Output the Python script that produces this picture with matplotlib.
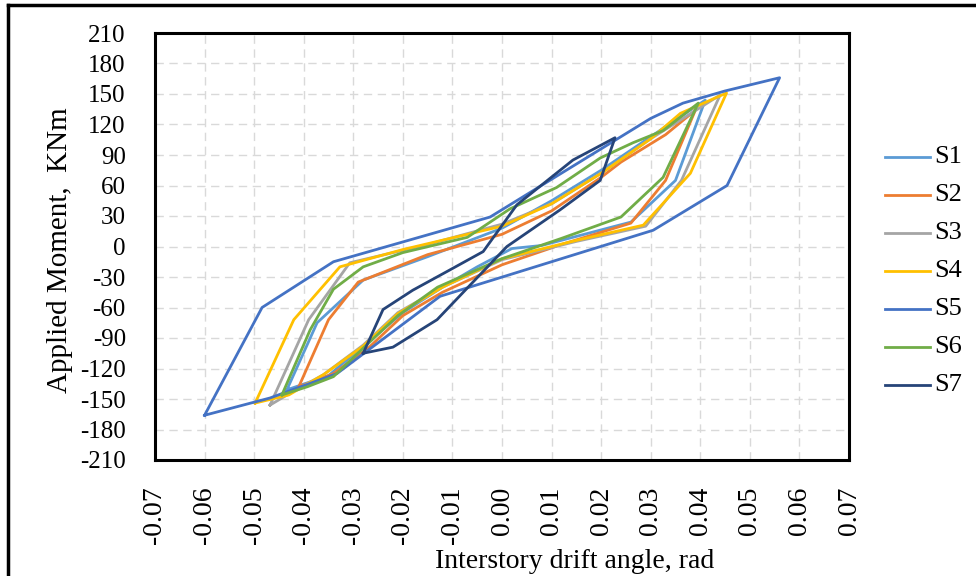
import matplotlib
matplotlib.use("Agg")
import matplotlib.pyplot as plt
from matplotlib.lines import Line2D
import numpy as np

# hysteresis loops: drift angle (rad) and applied moment (kNm)
s1_x = [-0.0434, -0.0373, -0.028, -0.015, 0.0, 0.010, 0.020, 0.030, 0.041,
        0.035, 0.026, 0.008, 0.002, -0.005, -0.012, -0.020, -0.028, -0.035, -0.0434]
s1_y = [-141, -75, -33, -10, 18, 45, 75, 108, 144,
        65, 24, 1, -2, -20, -40, -65, -98, -127, -141]

s2_x = [-0.041, -0.035, -0.029, -0.015, 0.0, 0.010, 0.020, 0.024, 0.033, 0.039,
        0.033, 0.026, 0.012, 0.0, -0.012, -0.020, -0.027, -0.034, -0.041]
s2_y = [-138, -72, -35, -8, 12, 35, 68, 83, 110, 134,
        65, 23, 2, -18, -45, -68, -100, -125, -138]

s3_x = [-0.0468, -0.039, -0.0307, -0.015, 0.0, 0.010, 0.020, 0.030, 0.044,
        0.0362, 0.029, 0.015, 0.0, -0.012, -0.021, -0.028, -0.036, -0.043, -0.0468]
s3_y = [-156, -72, -16, 2, 22, 42, 72, 106, 149,
        65, 20, 5, -13, -40, -65, -97, -126, -145, -156]

s4_x = [-0.0498, -0.042, -0.0327, -0.020, 0.0, 0.010, 0.020, 0.030, 0.036, 0.0453,
        0.038, 0.0285, 0.015, 0.0, -0.012, -0.021, -0.028, -0.036, -0.043, -0.0498]
s4_y = [-154, -72, -20, -3, 20, 42, 72, 106, 131, 151,
        72, 21, 6, -12, -40, -66, -98, -126, -146, -154]

s5_x = [-0.060, -0.0484, -0.034, -0.0024, 0.030, 0.0365, 0.045, 0.056,
        0.0454, 0.0305, -0.0125, -0.0333, -0.0468, -0.060]
s5_y = [-166, -60, -15, 29, 126, 141, 153, 166,
        60, 16, -49, -125, -149, -166]

s6_x = [-0.0444, -0.0387, -0.034, -0.028, -0.020, -0.007, 0.0016, 0.011, 0.0198, 0.0264, 0.0325, 0.0396,
        0.0325, 0.024, 0.012, 0.0, -0.013, -0.021, -0.028, -0.034, -0.0393, -0.0444]
s6_y = [-146, -82, -42, -20, -6, 9, 37, 58, 87, 102, 114, 141,
        68, 29, 8, -12, -40, -68, -100, -128, -138, -146]

s7_x = [-0.028, -0.024, -0.018, -0.0105, -0.0038, 0.003, 0.0143, 0.0228,
        0.0198, 0.0117, 0.001, -0.0131, -0.022, -0.028]
s7_y = [-105, -62, -43, -23, -5, 41, 85, 107,
        65, 36, 0, -72, -99, -105]

labels = ["S1", "S2", "S3", "S4", "S5", "S6", "S7"]
colors = ["#5B9BD5", "#ED7D31", "#A5A5A5", "#FFC000", "#4472C4", "#70AD47", "#264478"]
series = [(s1_x, s1_y), (s2_x, s2_y), (s3_x, s3_y), (s4_x, s4_y),
          (s5_x, s5_y), (s6_x, s6_y), (s7_x, s7_y)]

x_ticks = np.round(np.arange(-0.07, 0.0701, 0.01), 2)
y_ticks = np.arange(-210, 211, 30)

plt.rcParams["font.family"] = ["Liberation Serif", "DejaVu Serif"]
plt.rcParams["axes.unicode_minus"] = False

W, H = 976, 576
fig = plt.figure(figsize=(W / 100, H / 100), dpi=100)
ax = fig.add_axes([155 / W, 1 - 460 / H, 694 / W, 427 / H])

for (x, y), lab, c in zip(series, labels, colors):
    ax.plot(x, y, color=c, lw=2, label=lab)

ax.set_xlim(-0.07, 0.07)
ax.set_ylim(-210, 210)
ax.set_xticks(x_ticks)
ax.set_xticklabels([f"{v:.2f}" if v != 0 else "0.00" for v in x_ticks], rotation=90, fontsize=20)
ax.set_yticks(y_ticks)
ax.tick_params(axis="y", labelsize=18, length=0, pad=21)
ax.tick_params(axis="x", length=0, pad=19)
ax.grid(True, color="#d9d9d9", ls=(0, (6, 4)), lw=1)
for sp in ax.spines.values():
    sp.set_linewidth(2.2)
    sp.set_color("black")

fig.text(575 / W, 1 - 562 / H, "Interstory drift angle, rad", ha="center", va="center", fontsize=20)
fig.text(60 / W, 1 - 250 / H, "Applied Moment,  KNm", ha="center", va="center",
         rotation=90, fontsize=21)

# legend drawn by hand: short line plus series name
for i, (lab, c) in enumerate(zip(labels, colors)):
    yy = 1 - (157 + 38 * i) / H
    fig.add_artist(Line2D([885 / W, 930 / W], [yy, yy], color=c, lw=2))
    fig.text(934 / W, yy, lab, ha="left", va="center", fontsize=19)

# outer frame edges
fig.add_artist(Line2D([8 / W, 8 / W], [0, 1 - 5 / H], color="black", lw=2.5))
fig.add_artist(Line2D([8 / W, 1], [1 - 5 / H, 1 - 5 / H], color="black", lw=2.5))

fig.savefig("out.png", dpi=100)
